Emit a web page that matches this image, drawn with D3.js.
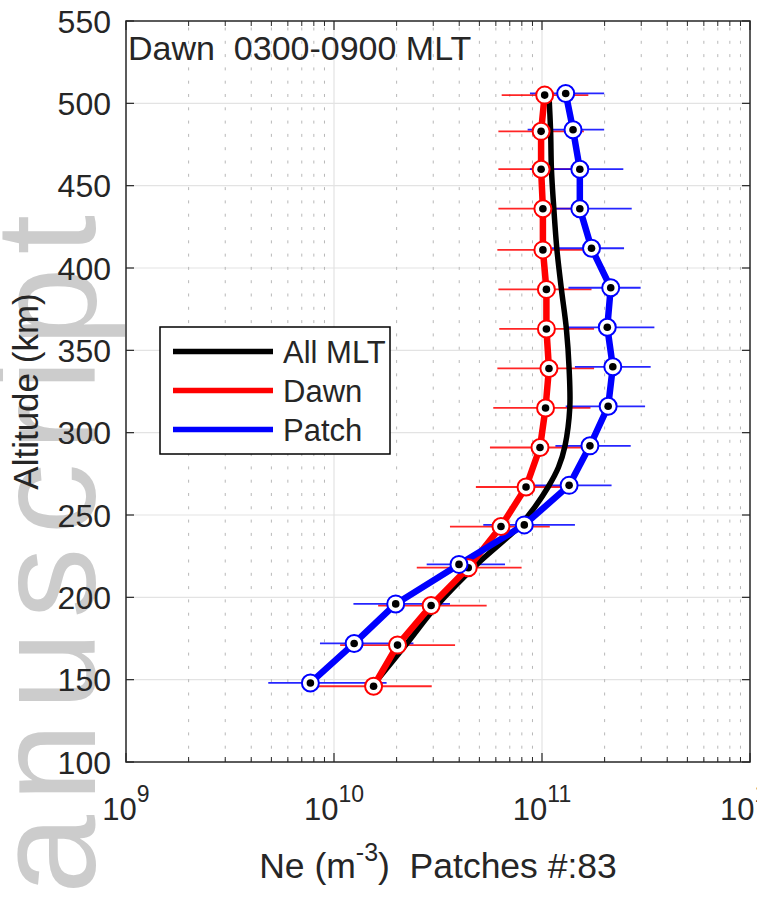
<!DOCTYPE html>
<html lang="en">
<head>
<meta charset="UTF-8" />
<title>Dawn 0300-0900 MLT</title>
<script src="https://d3js.org/d3.v7.min.js"></script>
<style>
  body { margin: 0; background: #fff; }
  svg text { font-family: "Liberation Sans", Arial, Helvetica, sans-serif; fill: #262626; white-space: pre; }
</style>
</head>
<body>
<div id="chart"></div>
<script>
// All MLT mean profile (smooth curve, no markers)
const allAlt = [147, 172, 195, 220, 243, 255, 267, 279, 292, 315, 339, 363, 387, 411, 436, 460, 483, 505];
const allNe  = [1.55e10, 2.24e10, 3.12e10, 4.86e10, 7.75e10, 9.25e10, 1.07e11, 1.20e11, 1.29e11,
                1.36e11, 1.35e11, 1.31e11, 1.24e11, 1.18e11, 1.14e11, 1.11e11, 1.10e11, 1.08e11];

// Dawn profile with horizontal error bars
const dawnAlt = [146, 171, 195, 218, 243, 267, 291, 315, 339, 363, 387, 411, 436, 460, 483, 505];
const dawnNe  = [1.55e10, 2.02e10, 2.93e10, 4.42e10, 6.35e10, 8.38e10, 9.78e10, 1.04e11,
                 1.08e11, 1.05e11, 1.05e11, 1.01e11, 1.01e11, 0.99e11, 0.99e11, 1.03e11];
const dawnLo  = [8.1e9, 1.07e10, 1.63e10, 2.50e10, 3.61e10, 4.81e10, 5.62e10, 5.83e10,
                 6.10e10, 6.23e10, 6.17e10, 6.10e10, 6.17e10, 6.17e10, 6.17e10, 6.40e10];
const dawnHi  = [2.95e10, 3.82e10, 5.42e10, 7.98e10, 1.09e11, 1.46e11, 1.70e11, 1.71e11,
                 1.78e11, 1.78e11, 1.73e11, 1.58e11, 1.65e11, 1.61e11, 1.59e11, 1.67e11];

// Patch profile with horizontal error bars
const patchAlt = [148, 172, 196, 220, 244, 268, 292, 316, 340, 364, 388, 412, 436, 460, 484, 506];
const patchNe  = [7.7e9, 1.25e10, 1.98e10, 3.99e10, 8.22e10, 1.35e11, 1.70e11, 2.08e11,
                  2.19e11, 2.06e11, 2.14e11, 1.73e11, 1.52e11, 1.52e11, 1.41e11, 1.30e11];
const patchLo  = [4.83e9, 8.56e9, 1.24e10, 2.79e10, 5.22e10, 9.25e10, 1.16e11, 1.30e11,
                  1.44e11, 1.31e11, 1.34e11, 1.11e11, 9.25e10, 8.75e10, 8.53e10, 8.75e10];
const patchHi  = [1.79e10, 2.41e10, 3.61e10, 6.64e10, 1.44e11, 2.16e11, 2.67e11, 3.13e11,
                  3.33e11, 3.47e11, 2.98e11, 2.48e11, 2.70e11, 2.46e11, 1.99e11, 1.99e11];

const yTicks = [100, 150, 200, 250, 300, 350, 400, 450, 500, 550];
const xDecades = [1e9, 1e10, 1e11, 1e12];
const xExponents = ["9", "10", "11", "12"];
const legendNames = ["All MLT", "Dawn", "Patch"];
const legendColors = ["#000000", "#ff0000", "#0000ff"];

const W = 757, H = 899;
const plot = {left: 126, right: 750, top: 21, bottom: 762};

const svg = d3.select("#chart").append("svg")
  .attr("width", W).attr("height", H);

const x = d3.scaleLog().domain([1e9, 1e12]).range([plot.left, plot.right]);
const y = d3.scaleLinear().domain([100, 550]).range([plot.bottom, plot.top]);

// watermark
svg.append("text")
  .attr("transform", "translate(95,1025) rotate(-90)")
  .attr("textLength", 810)
  .attr("lengthAdjust", "spacing")
  .style("font-size", "142px")
  .style("fill", "#cccccc")
  .text("Manuscript");

// minor ticks on the log axis
const minorX = [];
xDecades.slice(0, 3).forEach(d => { for (let k = 2; k <= 9; k++) minorX.push(d * k); });

const grid = svg.append("g");
grid.selectAll(".hgrid").data(yTicks.slice(1, -1)).enter().append("line")
  .attr("x1", plot.left).attr("x2", plot.right)
  .attr("y1", d => y(d)).attr("y2", d => y(d))
  .attr("stroke", "#e3e3e3").attr("stroke-width", 1.2);
grid.selectAll(".vgrid").data(xDecades.slice(1, -1)).enter().append("line")
  .attr("x1", d => x(d)).attr("x2", d => x(d))
  .attr("y1", plot.top).attr("y2", plot.bottom)
  .attr("stroke", "#e3e3e3").attr("stroke-width", 1.2);
grid.selectAll(".mgrid").data(minorX).enter().append("line")
  .attr("x1", d => x(d)).attr("x2", d => x(d))
  .attr("y1", plot.bottom).attr("y2", plot.top)
  .attr("stroke", "#b8b8b8").attr("stroke-width", 1)
  .attr("stroke-dasharray", "3,10.3");

// error bars
function errBars(alt, lo, hi, color) {
  svg.append("g").selectAll("line").data(alt).enter().append("line")
    .attr("x1", (d, i) => x(lo[i])).attr("x2", (d, i) => x(hi[i]))
    .attr("y1", d => y(d)).attr("y2", d => y(d))
    .attr("stroke", color).attr("stroke-width", 1.8).attr("opacity", 0.85);
}
errBars(dawnAlt, dawnLo, dawnHi, "#ff0000");
errBars(patchAlt, patchLo, patchHi, "#0000ff");

// profiles
const allPts = allAlt.map((a, i) => [x(allNe[i]), y(a)]);
svg.append("path")
  .attr("d", d3.line().curve(d3.curveCatmullRom)(allPts))
  .attr("fill", "none").attr("stroke", "#000").attr("stroke-width", 5.5);

function profile(alt, ne, color) {
  svg.append("path")
    .attr("d", d3.line()(alt.map((a, i) => [x(ne[i]), y(a)])))
    .attr("fill", "none").attr("stroke", color).attr("stroke-width", 6.5)
    .attr("stroke-linejoin", "round");
}
profile(dawnAlt, dawnNe, "#ff0000");
profile(patchAlt, patchNe, "#0000ff");

function markers(alt, ne, color) {
  const g = svg.append("g");
  g.selectAll(".ring").data(alt).enter().append("circle")
    .attr("cx", (d, i) => x(ne[i])).attr("cy", d => y(d))
    .attr("r", 8.5).attr("fill", "#fff").attr("stroke", color).attr("stroke-width", 2);
  g.selectAll(".dot").data(alt).enter().append("circle")
    .attr("cx", (d, i) => x(ne[i])).attr("cy", d => y(d))
    .attr("r", 3.8).attr("fill", "#000");
}
markers(dawnAlt, dawnNe, "#ff0000");
markers(patchAlt, patchNe, "#0000ff");

// axes box and ticks
const ax = svg.append("g").attr("stroke", "#262626");
ax.append("rect")
  .attr("x", plot.left).attr("y", plot.top)
  .attr("width", plot.right - plot.left).attr("height", plot.bottom - plot.top)
  .attr("fill", "none").attr("stroke-width", 1.5);
[[plot.bottom, -1], [plot.top, 1]].forEach(([yy, dir]) => {
  ax.selectAll(null).data(xDecades).enter().append("line")
    .attr("x1", d => x(d)).attr("x2", d => x(d))
    .attr("y1", yy).attr("y2", yy + dir * 9).attr("stroke-width", 1.2);
  ax.selectAll(null).data(minorX).enter().append("line")
    .attr("x1", d => x(d)).attr("x2", d => x(d))
    .attr("y1", yy).attr("y2", yy + dir * 5).attr("stroke-width", 1);
});
[[plot.left, 1], [plot.right, -1]].forEach(([xx, dir]) => {
  ax.selectAll(null).data(yTicks).enter().append("line")
    .attr("x1", xx).attr("x2", xx + dir * 8)
    .attr("y1", d => y(d)).attr("y2", d => y(d)).attr("stroke-width", 1.2);
});

// tick labels
svg.append("g").selectAll("text").data(yTicks).enter().append("text")
  .attr("x", 111).attr("y", d => y(d)).attr("dy", "0.36em")
  .attr("text-anchor", "end").style("font-size", "32px")
  .text(d => d);

const xl = svg.append("g").selectAll("text").data(xDecades).enter().append("text")
  .attr("x", d => x(d)).attr("y", 820)
  .attr("text-anchor", "middle").style("font-size", "31px");
xl.append("tspan").text("10");
xl.append("tspan").attr("dy", -18).style("font-size", "23px").text((d, i) => xExponents[i]);

// axis labels
const xt = svg.append("text")
  .attr("x", (plot.left + plot.right) / 2).attr("y", 878)
  .attr("text-anchor", "middle").style("font-size", "35.5px");
xt.append("tspan").text("Ne (m");
xt.append("tspan").attr("dy", -17).style("font-size", "25px").text("-3");
xt.append("tspan").attr("dy", 17).text(")  Patches #:83");

svg.append("text")
  .attr("transform", `translate(38,${(plot.top + plot.bottom) / 2}) rotate(-90)`)
  .attr("text-anchor", "middle").style("font-size", "35px")
  .text("Altitude (km)");

// title inside axes
svg.append("text")
  .attr("x", 128).attr("y", 60).style("font-size", "34px")
  .text("Dawn  0300-0900 MLT");

// legend
const lg = svg.append("g");
lg.append("rect").attr("x", 160).attr("y", 327).attr("width", 230).attr("height", 127)
  .attr("fill", "#fff").attr("stroke", "#000").attr("stroke-width", 1.5);
const items = lg.selectAll(".item").data(legendNames).enter().append("g")
  .attr("transform", (d, i) => `translate(0,${351.5 + i * 39})`);
items.append("line").attr("x1", 173).attr("x2", 273)
  .attr("stroke", (d, i) => legendColors[i]).attr("stroke-width", 5.5);
items.append("text").attr("x", 283).attr("dy", "0.36em")
  .style("font-size", "31px").text(d => d);
</script>
</body>
</html>
